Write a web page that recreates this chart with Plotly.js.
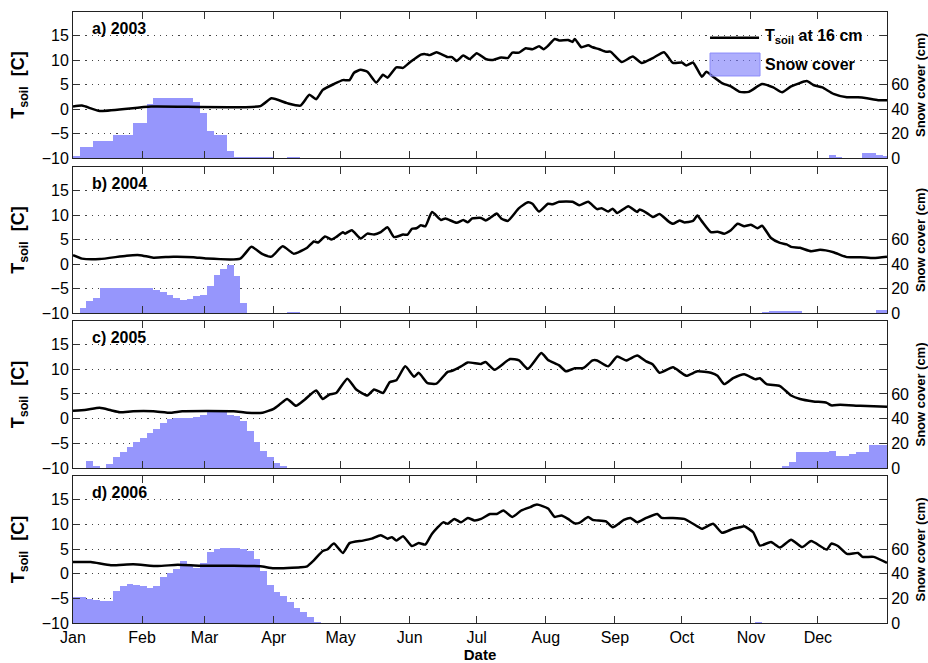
<!DOCTYPE html>
<html>
<head>
<meta charset="utf-8">
<script src="https://cdn.plot.ly/plotly-3.0.1.min.js"></script>
<style>html,body{margin:0;padding:0;background:#fff;}#chart{width:928px;height:663px;}</style>
</head>
<body>
<div id="chart"></div>
<script>
// ---- Data (day offset from Jan 1) ----
const monthTickDays = [0,31,59,90,120,151,181,212,243,273,304,334];
const monthLabels = ['Jan','Feb','Mar','Apr','May','Jun','Jul','Aug','Sep','Oct','Nov','Dec'];
const panelLabels = ['a) 2003','b) 2004','c) 2005','d) 2006'];

// Soil temperature at 16 cm (deg C)
const tDaysA = [0,4,12,35,84,89,96,102,106,109,112,117,121,124,126,129,132,136,139,141,145,148,151,156,158,160,163,168,170,172,175,178,181,185,188,192,195,197,200,203,206,209,211,213,216,218,222,224,225,228,231,233,236,239,241,246,251,255,260,265,269,273,275,278,282,284,287,291,295,299,303,309,314,318,322,329,332,336,341,347,352,356,361,365];
const tA = [0.5,0.7,-0.4,0.5,0.6,2.2,1.2,0.7,2.9,2.0,3.9,5.1,5.9,5.9,7.4,8.0,7.6,5.4,7.0,6.4,8.5,8.4,9.5,11.1,11.2,11.0,11.6,10.6,10.6,9.8,10.9,10.2,11.4,10.2,10.0,10.5,10.4,11.5,11.5,12.4,12.2,12.8,12.2,12.9,14.3,14.0,14.1,13.7,14.3,12.6,13.0,12.6,12.2,11.7,11.7,9.6,10.7,9.4,10.4,11.6,9.4,9.5,8.9,9.5,6.6,7.6,6.6,5.3,4.6,3.5,3.5,5.1,4.4,3.4,4.6,5.7,4.9,4.4,3.1,2.4,2.4,2.2,1.8,1.8];

const tDaysB = [0,4,12,24,30,36,45,54,60,75,80,85,89,94,99,102,105,108,110,113,116,118,121,122,125,129,132,135,138,141,144,148,150,152,154,156,158,161,165,167,172,175,177,179,183,185,187,190,192,195,200,204,206,209,213,215,218,224,227,231,235,237,240,242,244,249,253,254,257,260,263,267,269,272,274,278,280,282,286,289,292,295,298,301,304,307,309,313,317,320,322,326,331,335,341,347,353,359,365];
const tB = [1.8,1.1,1.0,1.7,1.8,1.3,1.5,1.4,1.1,1.1,3.5,2.0,1.5,3.6,2.1,2.6,3.3,4.6,4.4,5.6,5.0,5.5,6.5,6.2,6.9,5.2,6.2,6.0,6.5,7.5,5.5,6.0,6.0,7.2,7.3,7.9,7.7,10.6,9.0,9.3,8.4,9.0,8.5,9.3,9.4,8.9,9.4,10.3,9.3,8.8,11.4,12.6,12.3,10.7,12.3,12.2,12.7,12.7,12.0,12.7,11.2,11.4,10.7,11.3,10.4,11.8,10.6,11.1,10.5,9.6,10.2,8.7,8.2,8.9,8.5,8.8,9.9,8.7,6.5,6.6,6.2,6.9,8.2,7.7,8.0,7.3,7.8,5.3,4.3,4.0,3.5,3.3,2.6,2.9,2.4,1.4,1.4,1.2,1.5];

const tDaysC = [0,6,12,17,21,27,36,44,49,72,78,85,90,93,96,100,104,109,112,115,118,123,127,132,135,139,142,145,149,153,155,159,163,168,170,174,177,183,185,189,196,200,204,210,213,218,221,225,229,233,235,240,244,248,253,257,260,263,269,275,280,286,289,292,296,301,306,308,311,317,322,326,332,338,340,344,353,365];
const tC = [1.6,1.8,2.2,1.7,1.3,1.5,1.5,1.2,1.5,1.5,1.2,1.2,2.0,3.0,4.0,2.6,3.9,5.7,4.0,4.9,5.2,8.1,5.9,4.7,5.9,5.2,7.4,7.8,10.6,8.5,9.3,7.2,7.1,9.5,9.7,10.6,11.4,11.1,11.5,9.9,12.1,11.8,10.1,13.3,11.9,10.8,9.6,10.2,10.3,11.8,11.8,10.6,12.6,11.8,12.8,11.6,11.0,9.3,10.4,8.7,9.6,9.3,8.7,7.0,8.2,9.0,8.0,8.2,7.0,6.6,4.7,4.0,3.5,3.2,2.7,2.8,2.6,2.4];

const tDaysD = [0,8,17,27,38,47,57,72,84,90,102,105,108,112,114,117,121,124,130,134,138,141,143,145,148,152,155,158,161,166,168,171,174,177,180,183,187,190,193,197,201,205,208,213,216,219,222,225,227,231,233,239,242,247,250,253,257,262,264,269,274,280,282,287,291,296,299,301,305,308,313,317,322,327,331,338,340,343,347,352,354,359,365];
const tD = [2.35,2.35,1.7,1.9,1.55,1.8,1.6,1.6,1.5,1.1,1.3,1.5,2.7,4.6,4.9,6.1,4.2,6.2,6.7,7.1,7.8,7.1,7.4,6.7,7.6,5.6,6.2,5.9,8.1,10.4,10.1,11.1,10.4,11.3,10.8,11.1,12.1,12.1,12.8,11.5,12.8,13.5,14.0,13.2,11.5,11.8,11.1,10.2,10.3,11.5,10.9,10.6,9.4,10.9,11.3,10.4,11.3,12.1,11.3,11.3,11.1,9.6,9.1,10.1,8.3,9.1,9.4,9.6,8.4,5.7,6.4,5.3,6.9,5.4,6.6,4.9,6.1,5.6,4.0,4.2,3.4,3.4,2.2];

// Snow cover (cm), one value per 3-day bin starting Jan 1 (122 bins)
const snowA = [
 2,9,9.3,14.2,14.2,14.2,19,19,19,29,29,44,49,49,49,49,49,49,46,37,
 22,19,19,6,0.8,0.8,0.8,0.8,0.8,0.8,0,0,1,1,0,0,0,0,0,0,
 0,0,0,0,0,0,0,0,0,0,0,0,0,0,0,0,0,0,0,0,
 0,0,0,0,0,0,0,0,0,0,0,0,0,0,0,0,0,0,0,0,
 0,0,0,0,0,0,0,0,0,0,0,0,0,0,0,0,0,0,0,0,
 0,0,0,0,0,0,0,0,0,0,0,0,0,2.5,1,0,0,0,4.3,4.3,
 2.5,1.5];
const snowB = [
 0,4,10,12,20,20,20,20,20,20,20,20,19,17,14.5,12,10.5,11.5,14,14.4,
 22,31,36,39,30,8,0,0,0,0,0,0,0.8,0.8,0,0,0,0,0,0,
 0,0,0,0,0,0,0,0,0,0,0,0,0,0,0,0,0,0,0,0,
 0,0,0,0,0,0,0,0,0,0,0,0,0,0,0,0,0,0,0,0,
 0,0,0,0,0,0,0,0,0,0,0,0,0,0,0,0,0,0,0,0,
 0,0,0,1,1.5,1.5,1.5,1.5,1.5,0,0,0,0,0,0,0,0,0,0,0,
 2.5,2.5];
const snowC = [
 0,0,6,1.5,0,3,9,13,17,21,24.5,28,32,36.5,39.5,40.5,40.5,40.5,41.5,43,
 46,47.3,46.5,43,42,38,30,21,14,9,4,1.5,0,0,0,0,0,0,0,0,
 0,0,0,0,0,0,0,0,0,0,0,0,0,0,0,0,0,0,0,0,
 0,0,0,0,0,0,0,0,0,0,0,0,0,0,0,0,0,0,0,0,
 0,0,0,0,0,0,0,0,0,0,0,0,0,0,0,0,0,0,0,0,
 0,0,0,0,0,0,2,4.5,12.7,12.7,12.7,12.7,12.7,14,9.4,9.4,11,13,13,18.3,
 18.3,18.3];
const snowD = [
 21,21,19.2,18.5,17.8,17.8,26,30,31.3,31,30,28.5,30,37,40.5,44,50,47,45,48.5,
 57.5,60,61,61,61,60,58,52,42,31,25,22,17,12.5,9,4.5,1,0,0,0,
 0,0,0,0,0,0,0,0,0,0,0,0,0,0,0,0,0,0,0,0,
 0,0,0,0,0,0,0,0,0,0,0,0,0,0,0,0,0,0,0,0,
 0,0,0,0,0,0,0,0,0,0,0,0,0,0,0,0,0,0,0,0,
 0,0,0.5,0,0,0,0,0,0,0,0,0,0,0,0,0,0,0,0,0,
 0,0];

const tempDays = [tDaysA, tDaysB, tDaysC, tDaysD];
const temps = [tA, tB, tC, tD];
const snows = [snowA, snowB, snowC, snowD];

// ---- Build figure ----
const FONT = 'Liberation Sans, Arial, sans-serif';
const BAR = 'rgb(150,150,252)';
const domains = [[0.761,1],[0.5074,0.7463],[0.2537,0.4943],[0,0.2406]];
const traces = [];
const layout = {
  width: 928, height: 663,
  margin: {l: 73, r: 41, t: 12, b: 40},
  paper_bgcolor: '#fff', plot_bgcolor: '#fff',
  showlegend: false, bargap: 0,
  font: {family: FONT, color: '#000', size: 15},
  annotations: [], shapes: []
};

for (let i = 0; i < 4; i++) {
  const xid = i === 0 ? 'x' : 'x' + (i + 1);
  const sid = 'y' + (2 * i + 1 === 1 ? '' : 2 * i + 1);
  const tid = 'y' + (2 * i + 2);
  const xkey = i === 0 ? 'xaxis' : 'xaxis' + (i + 1);
  const skey = 'yaxis' + (2 * i + 1 === 1 ? '' : 2 * i + 1);
  const tkey = 'yaxis' + (2 * i + 2);

  traces.push({
    type: 'bar', x: snows[i].map((_, k) => k * 3 + 1.5), y: snows[i],
    xaxis: xid, yaxis: sid,
    marker: {color: BAR, line: {width: 0}},
    name: 'Snow cover'
  });
  traces.push({
    type: 'scatter', mode: 'lines', x: tempDays[i], y: temps[i],
    xaxis: xid, yaxis: tid,
    line: {color: '#000', width: 2.5, shape: 'spline', smoothing: 0.5},
    name: 'T_soil at 16 cm'
  });

  layout[xkey] = {
    domain: [0, 1], anchor: sid, range: [0, 365],
    tickmode: 'array', tickvals: monthTickDays, ticktext: monthLabels,
    showticklabels: i === 3, ticks: 'inside', ticklen: 7, tickcolor: '#333',
    showline: true, linecolor: '#222', linewidth: 1, mirror: 'ticks',
    showgrid: false, zeroline: false, tickfont: {size: 16}
  };
  if (i === 3) layout[xkey].title = {text: '<b>Date</b>', font: {size: 15}, standoff: 4};

  layout[skey] = {
    domain: domains[i], anchor: xid, side: 'right', range: [0, 119.2],
    tickmode: 'array', tickvals: [0, 20, 40, 60],
    ticks: 'inside', ticklen: 7, tickcolor: '#333',
    showline: true, linecolor: '#222', linewidth: 1,
    showgrid: false, zeroline: false, tickfont: {size: 16},
    title: {text: '<b>Snow cover (cm)</b>', font: {size: 13}, standoff: 8}
  };
  layout[tkey] = {
    overlaying: sid, anchor: xid, side: 'left', range: [-10, 19.8],
    tickmode: 'array', tickvals: [-10, -5, 0, 5, 10, 15],
    ticks: 'inside', ticklen: 7, tickcolor: '#333',
    showline: true, linecolor: '#222', linewidth: 1, mirror: 'ticks',
    showgrid: true, gridcolor: '#444', gridwidth: 1, griddash: '1.2px,5px',
    zeroline: false, tickfont: {size: 16},
    title: {text: '<b>T<sub>soil</sub>  [C]</b>', font: {size: 18}, standoff: 12}
  };

  layout.annotations.push({
    xref: xid + ' domain', yref: sid + ' domain', x: 0.021, y: 0.89,
    xanchor: 'left', yanchor: 'middle', showarrow: false,
    text: '<b>' + panelLabels[i] + '</b>', font: {size: 16}
  });
}

// Legend (panel a, top right)
layout.shapes.push({type: 'line', xref: 'x domain', yref: 'y domain',
  x0: 0.7826, x1: 0.8428, y0: 0.824, y1: 0.824, line: {color: '#000', width: 2.5}});
layout.shapes.push({type: 'rect', xref: 'x domain', yref: 'y domain',
  x0: 0.7826, x1: 0.844, y0: 0.562, y1: 0.719, fillcolor: 'rgba(120,120,250,0.6)',
  line: {color: 'rgb(140,140,250)', width: 1}});
layout.annotations.push({xref: 'x domain', yref: 'y domain', x: 0.848, y: 0.829,
  xanchor: 'left', yanchor: 'middle', showarrow: false,
  text: '<b>T<sub>soil</sub> at 16 cm</b>', font: {size: 16}});
layout.annotations.push({xref: 'x domain', yref: 'y domain', x: 0.848, y: 0.64,
  xanchor: 'left', yanchor: 'middle', showarrow: false,
  text: '<b>Snow cover</b>', font: {size: 16}});

Plotly.newPlot('chart', traces, layout, {staticPlot: true, displayModeBar: false});
</script>
</body>
</html>
